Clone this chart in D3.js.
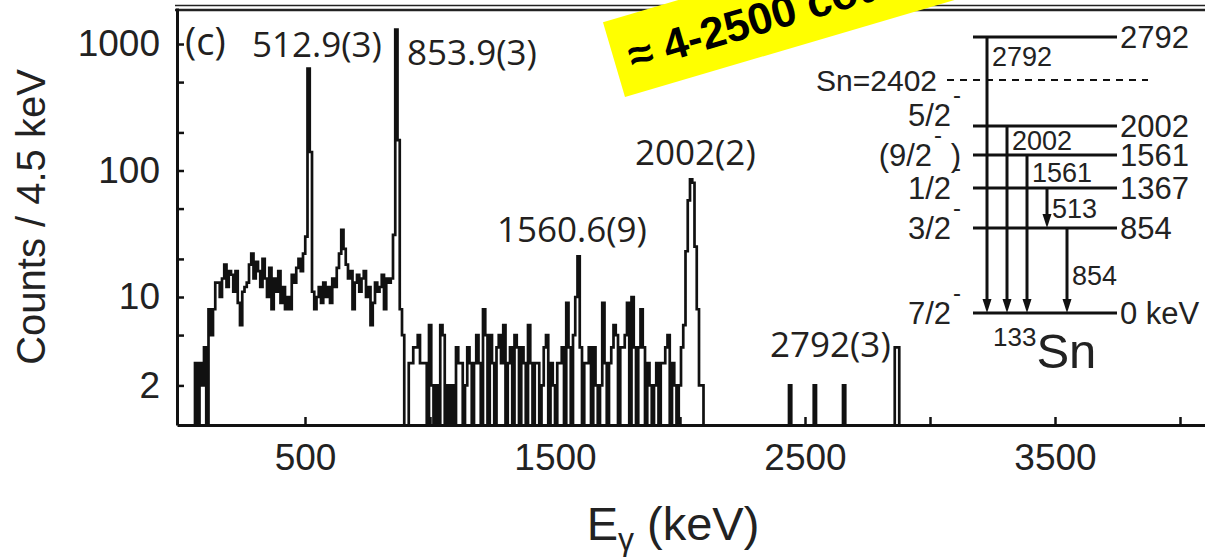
<!DOCTYPE html>
<html>
<head>
<meta charset="utf-8">
<script src="https://cdn.jsdelivr.net/npm/d3@7"></script>
<style>
  body { margin: 0; background: #fff; }
  svg { display: block; }
</style>
</head>
<body>
<svg id="chart" width="1205" height="558"></svg>
<script>
// gamma spectrum, 9 keV bins starting at 60 keV
var binStart = 60;
var binWidth = 9;
var lastE = 4100;
var counts = [
  3, 0, 3, 2, 4, 0, 8, 5, 8, 13,
  13, 10, 14, 18, 12, 16, 15, 11, 16, 9,
  6, 11, 12, 13, 18, 22, 14, 19, 16, 12,
  20, 14, 10, 17, 8, 14, 11, 16, 9, 12,
  8, 10, 8, 15, 13, 17, 20, 16, 22, 30,
  640, 140, 11, 8, 10, 12, 9, 13, 10, 12,
  9, 14, 12, 17, 22, 34, 24, 18, 14, 16,
  8, 13, 15, 11, 14, 16, 10, 12, 6, 9,
  13, 11, 12, 15, 8, 14, 13, 14, 31, 1300,
  174, 8, 5, 0, 0, 3, 3, 4, 4, 5,
  3, 3, 3, 0, 6, 2, 0, 2, 0, 6,
  5, 0, 2, 0, 2, 0, 4, 3, 3, 0,
  2, 4, 3, 0, 3, 5, 3, 0, 8, 5,
  0, 5, 3, 0, 4, 5, 3, 6, 0, 3,
  4, 0, 5, 4, 0, 4, 3, 0, 6, 3,
  0, 3, 3, 0, 2, 4, 5, 0, 3, 2,
  0, 3, 3, 4, 0, 9, 4, 0, 5, 10,
  21, 4, 0, 3, 3, 4, 0, 4, 2, 0,
  2, 9, 3, 0, 3, 4, 6, 5, 0, 4,
  4, 5, 9, 0, 10, 4, 0, 4, 8, 4,
  0, 3, 2, 0, 2, 3, 0, 3, 3, 4,
  5, 0, 3, 2, 0, 2, 4, 6, 23, 58,
  85, 80, 25, 8, 2, 2
];
// isolated bins above 2100 keV
var highE = [2436, 2535, 2652, 2859, 2868];
var highCounts = [2, 2, 2, 4, 4];

var yTicks = [2, 5, 10, 20, 50, 100, 200, 500, 1000];
var yLabels = [2, 10, 100, 1000];
var xTicks = [500, 1000, 1500, 2000, 2500, 3000, 3500, 4000];
var xLabels = [500, 1500, 2500, 3500];

// peak annotations, anchored in data space (keV, counts)
var peakText = ['(c)', '512.9(3)', '853.9(3)', '2002(2)', '1560.6(9)', '2792(3)'];
var peakTextE = [20, 288, 908, 1820, 1268, 2360];
var peakTextCount = [818, 789, 682, 110, 27.2, 3.36];

// level scheme of 133Sn
var levelE = [0, 854, 1367, 1561, 2002, 2792];
var levelLabel = ['0 keV', '854', '1367', '1561', '2002', '2792'];
var levelSpin = ['7/2', '3/2', '1/2', '(9/2', '5/2', ''];
var levelSpinTail = ['', '', '', ' )', '', ''];
var snE = 2402;
var gammaFrom = [2792, 2002, 1561, 1367, 854];
var gammaTo = [0, 0, 0, 854, 0];
var gammaLabel = ['2792', '2002', '1561', '513', '854'];

var svg = d3.select('#chart');
var axisFont = 'Liberation Sans, Arial, Helvetica, sans-serif';
var labelFont = 'Open Sans, Noto Sans, sans-serif';

var x = d3.scaleLinear().domain([-12, lastE]).range([177, 1205]);
var y = d3.scaleLog().domain([0.973, 1926]).range([425, 8]);

// build the bins
var bins = [];
var nBins = Math.round((lastE - binStart) / binWidth);
for (var i = 0; i < nBins; i++) {
  bins.push({ e: binStart + i * binWidth, c: i < counts.length ? counts[i] : 0 });
}
highE.forEach(function (e, k) {
  var idx = Math.round((e - binStart) / binWidth);
  if (bins[idx]) bins[idx].c = highCounts[k];
});
var steps = [{ e: binStart - binWidth, c: 0 }].concat(bins).concat([{ e: lastE, c: 0 }]);

svg.append('clipPath').attr('id', 'plotClip')
  .append('rect')
  .attr('x', x.range()[0]).attr('y', y.range()[1])
  .attr('width', x.range()[1] - x.range()[0])
  .attr('height', y.range()[0] - y.range()[1]);

var line = d3.line()
  .x(function (d) { return x(d.e); })
  .y(function (d) { return y(d.c > 0 ? d.c : 0.5); })
  .curve(d3.curveStepAfter);

svg.append('path')
  .datum(steps)
  .attr('clip-path', 'url(#plotClip)')
  .attr('d', line)
  .attr('fill', 'none')
  .attr('stroke', '#111')
  .attr('stroke-width', 2.7);

// top frame (double line)
svg.append('line').attr('x1', 175).attr('x2', 1205).attr('y1', 5.5).attr('y2', 5.5)
  .attr('stroke', '#222').attr('stroke-width', 1.6);
svg.append('line').attr('x1', 175).attr('x2', 1205).attr('y1', 10).attr('y2', 10)
  .attr('stroke', '#222').attr('stroke-width', 2.5);

// axes
var yAxis = d3.axisLeft(y)
  .tickValues(yTicks)
  .tickSize(-7)
  .tickSizeOuter(0)
  .tickPadding(17)
  .tickFormat(function (d) { return yLabels.indexOf(d) >= 0 ? d : ''; });

var gy = svg.append('g')
  .attr('transform', 'translate(' + x.range()[0] + ',0)')
  .call(yAxis);

var xAxis = d3.axisBottom(x)
  .tickValues(xTicks)
  .tickSize(-8)
  .tickSizeOuter(0)
  .tickPadding(19)
  .tickFormat(function (d) { return xLabels.indexOf(d) >= 0 ? d : ''; });

var gx = svg.append('g')
  .attr('transform', 'translate(0,' + y.range()[0] + ')')
  .call(xAxis);

[gx, gy].forEach(function (g) {
  g.attr('font-family', axisFont).attr('font-size', 37);
  g.select('.domain').attr('stroke', '#111').attr('stroke-width', 3);
  g.selectAll('.tick line').attr('stroke', '#111').attr('stroke-width', 2.5);
  g.selectAll('.tick text').attr('fill', '#222');
});

// axis titles
svg.append('text')
  .attr('transform', 'translate(45,217) rotate(-90)')
  .attr('text-anchor', 'middle')
  .attr('font-family', axisFont)
  .attr('font-size', 40)
  .attr('fill', '#222')
  .text('Counts / 4.5 keV');

var xt = svg.append('text')
  .attr('x', 673)
  .attr('y', 540)
  .attr('text-anchor', 'middle')
  .attr('font-family', axisFont)
  .attr('font-size', 47)
  .attr('fill', '#222');
xt.append('tspan').text('E');
xt.append('tspan').attr('font-size', 32).attr('dy', 10).text('γ');
xt.append('tspan').attr('dy', -10).text(' (keV)');

// peak labels
var peakTextSize = [38, 35, 35, 35, 35, 35];
svg.selectAll('.peakLabel')
  .data(peakText)
  .enter()
  .append('text')
  .attr('class', 'peakLabel')
  .attr('x', function (d, i) { return x(peakTextE[i]); })
  .attr('y', function (d, i) { return y(peakTextCount[i]); })
  .attr('font-family', labelFont)
  .attr('font-size', function (d, i) { return peakTextSize[i]; })
  .attr('fill', '#231f20')
  .text(function (d) { return d; });

// ---- level scheme inset ----
var levelDomain = levelE.concat([snE]).sort(function (a, b) { return a - b; });
var ly = d3.scaleLinear().domain(levelDomain).range([313, 228, 188, 155, 126, 80, 37]);
var lx1 = 973, lx2 = 1117;
var gxs = d3.scaleLinear().domain([0, gammaFrom.length - 1]).range([987, 1067]);
var spinShift = [0, 0, 0, 0, -11, 0];

var inset = svg.append('g')
  .attr('font-family', axisFont)
  .attr('fill', '#222');

inset.selectAll('.level')
  .data(levelE)
  .enter()
  .append('line')
  .attr('class', 'level')
  .attr('x1', lx1).attr('x2', lx2)
  .attr('y1', function (d) { return ly(d); })
  .attr('y2', function (d) { return ly(d); })
  .attr('stroke', '#111')
  .attr('stroke-width', 3);

inset.selectAll('.levelLabel')
  .data(levelLabel)
  .enter()
  .append('text')
  .attr('class', 'levelLabel')
  .attr('x', lx2 + 3)
  .attr('y', function (d, i) { return ly(levelE[i]) + 11; })
  .attr('font-size', 31)
  .text(function (d) { return d; });

var spins = inset.selectAll('.spin')
  .data(levelSpin)
  .enter()
  .append('text')
  .attr('class', 'spin')
  .attr('x', lx1 - 12)
  .attr('y', function (d, i) { return ly(levelE[i]) + 11 + spinShift[i]; })
  .attr('text-anchor', 'end')
  .attr('font-size', 31);
spins.append('tspan').text(function (d) { return d; });
spins.append('tspan')
  .attr('font-size', 24)
  .attr('dx', 2)
  .attr('dy', -23)
  .text(function (d) { return d ? '-' : ''; });
spins.append('tspan')
  .attr('dy', 23)
  .text(function (d, i) { return levelSpinTail[i]; });

// neutron separation energy
inset.append('line')
  .attr('x1', 947).attr('x2', 1148)
  .attr('y1', ly(snE)).attr('y2', ly(snE))
  .attr('stroke', '#111')
  .attr('stroke-width', 2)
  .attr('stroke-dasharray', '7,6');
inset.append('text')
  .attr('x', 937)
  .attr('y', ly(snE) + 11)
  .attr('text-anchor', 'end')
  .attr('font-size', 30)
  .text('Sn=' + snE);

// gamma transitions
var gammaLabelPos = [0.07, 0.075, 0.11, 0.5, 0.55];
gammaFrom.forEach(function (ef, i) {
  var gxp = gxs(i);
  var y1 = ly(ef), y2 = ly(gammaTo[i]);
  inset.append('line')
    .attr('x1', gxp).attr('x2', gxp)
    .attr('y1', y1).attr('y2', y2 - 11)
    .attr('stroke', '#111')
    .attr('stroke-width', 3);
  inset.append('path')
    .attr('d', 'M' + (gxp - 4.5) + ',' + (y2 - 14) + 'L' + (gxp + 4.5) + ',' + (y2 - 14) + 'L' + gxp + ',' + y2 + 'Z')
    .attr('fill', '#111');
  inset.append('text')
    .attr('x', gxp + 5)
    .attr('y', y1 + (y2 - y1) * gammaLabelPos[i] + 10)
    .attr('font-size', 27)
    .text(gammaLabel[i]);
});

var nuc = inset.append('text')
  .attr('x', 993)
  .attr('y', 368);
nuc.append('tspan').attr('font-size', 26).attr('dy', -22).text('133');
nuc.append('tspan').attr('font-size', 49).attr('dy', 22).text('Sn');

// yellow banner
var banner = svg.append('g')
  .attr('transform', 'translate(625,97) rotate(-16.4)');
banner.append('rect')
  .attr('x', 0).attr('y', -78)
  .attr('width', 700).attr('height', 78)
  .attr('fill', '#ffff00');
banner.append('text')
  .attr('x', 15)
  .attr('y', -22)
  .attr('font-family', axisFont)
  .attr('font-weight', 'bold')
  .attr('font-size', 44)
  .attr('fill', '#000')
  .text('≈ 4-2500 counts');
</script>
</body>
</html>
